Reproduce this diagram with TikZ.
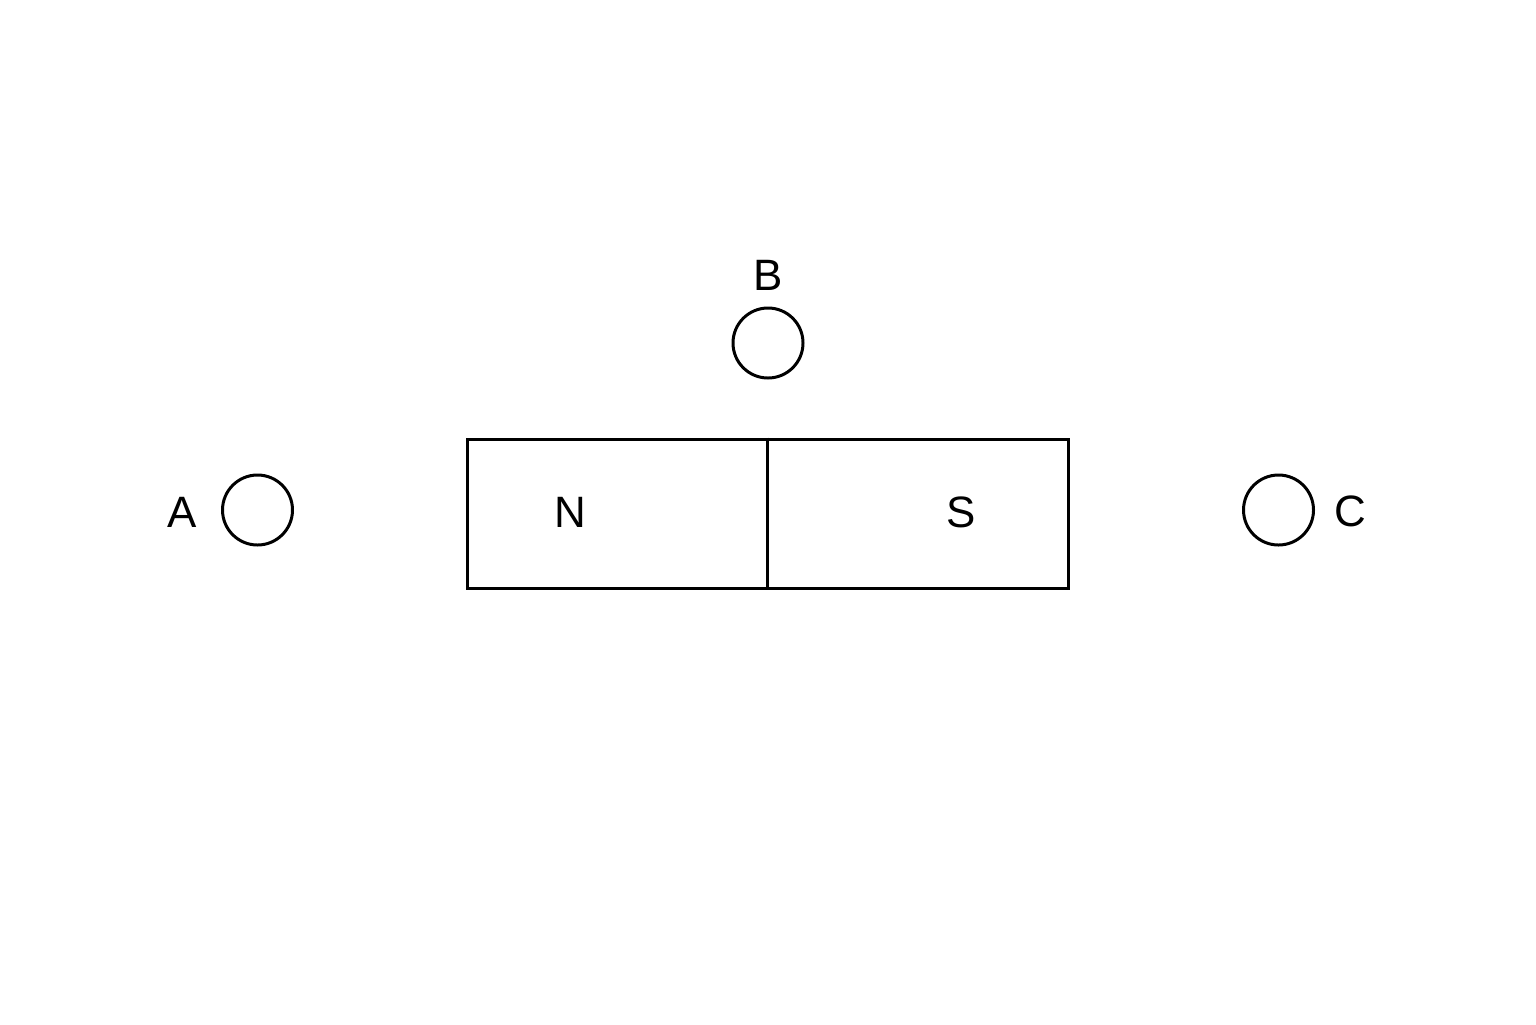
\documentclass[tikz,border=0pt]{standalone}
\usepackage{fontspec}
\setmainfont{Liberation Sans}
\usetikzlibrary{positioning}
\begin{document}
\begin{tikzpicture}[node distance=1cm]
        \tikzstyle{bar} = [rectangle, minimum width=6.01cm, minimum height=1.49cm, inner sep=0pt, draw=black, line width=0.85pt]
        \tikzstyle{probe} = [circle, minimum size=0.7cm, inner sep=0pt, draw=black, line width=0.85pt]
        \tikzstyle{tag} = [inner sep=0pt, font=\fontsize{12.5}{15}\selectfont]
        \useasboundingbox (0,0) rectangle (15.36,-10.24);

        \node (magnet) [bar] at (7.675,-5.135) {};
        \draw [line width=0.85pt] (magnet.north) -- (magnet.south);
        \node (nlabel) [tag] at (5.70,-5.12) {N};
        \node (slabel) [tag] at (9.61,-5.12) {S};

        \node (pa) [probe] at (2.575,-5.10) {};
        \node (pb) [probe] at (7.68,-3.43) {};
        \node (pc) [probe] at (12.785,-5.10) {};

        \node (la) [tag] at (1.82,-5.12) {A};
        \node (lb) [tag] at (7.68,-2.75) {B};
        \node (lc) [tag] at (13.50,-5.11) {C};

    \end{tikzpicture}
\end{document}
